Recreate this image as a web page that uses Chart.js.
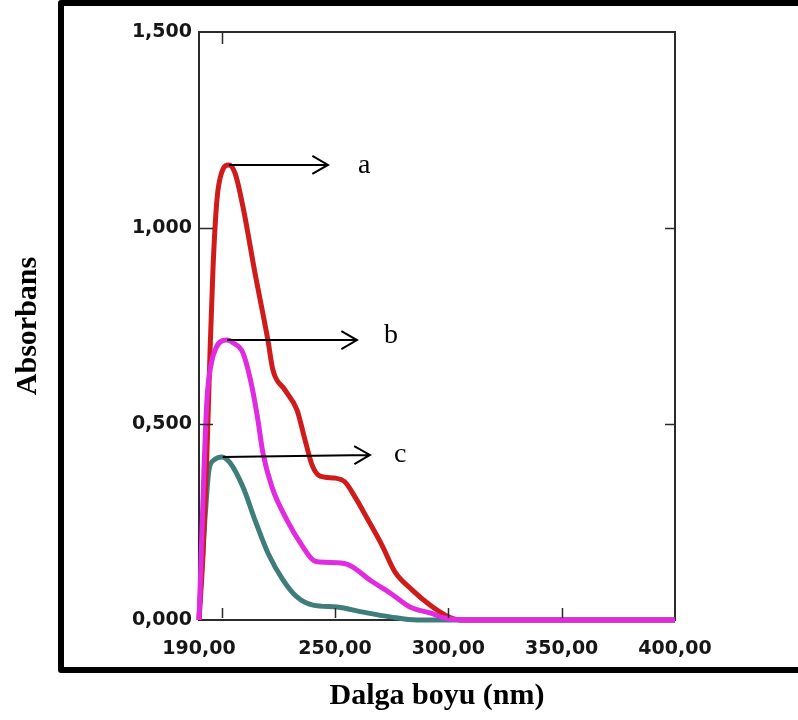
<!DOCTYPE html>
<html>
<head>
<meta charset="utf-8">
<script src="https://cdn.jsdelivr.net/npm/chart.js@4.4.0/dist/chart.umd.min.js"></script>
<style>
  body { margin: 0; background: #fff; }
  canvas { display: block; }
</style>
</head>
<body>
<canvas id="myChart" width="798" height="720"></canvas>
<script>
// wavelengths (nm) and absorbance
const redNm = [190, 191.8, 193.5, 194.9, 196.2, 197.9, 200.1, 203.2, 205.9, 209.4, 214.7, 220.4, 222.6, 227.9, 233.2, 236.8, 239.9, 243.4, 250.0, 254.4, 258.8, 264.6, 270.7, 276.5, 284.0, 291.9, 298.5, 305, 400];
const redAbs = [0, 0.171, 0.426, 0.689, 0.90, 1.071, 1.143, 1.161, 1.140, 1.054, 0.885, 0.714, 0.638, 0.587, 0.536, 0.459, 0.395, 0.367, 0.362, 0.352, 0.314, 0.255, 0.191, 0.122, 0.077, 0.038, 0.013, 0, 0];

const pinkNm = [190, 190.9, 192.2, 193.5, 195.3, 197.5, 200.1, 202.4, 205.0, 209.4, 213.4, 216.0, 218.2, 222.2, 228.8, 235.9, 240.3, 243.4, 253.5, 257.9, 265.4, 274.3, 283.1, 291.9, 298.5, 309.6, 400];
const pinkAbs = [0, 0.153, 0.383, 0.561, 0.651, 0.694, 0.712, 0.714, 0.707, 0.681, 0.594, 0.510, 0.426, 0.339, 0.255, 0.186, 0.153, 0.148, 0.145, 0.135, 0.102, 0.069, 0.033, 0.018, 0.005, 0, 0];

const tealNm = [190, 190.9, 192.6, 194.4, 196.6, 200.1, 203.7, 209.4, 214.7, 220.4, 227.1, 233.2, 240.3, 250.9, 262.4, 274.3, 286.2, 400];
const tealAbs = [0, 0.102, 0.255, 0.383, 0.408, 0.416, 0.401, 0.339, 0.255, 0.171, 0.102, 0.059, 0.038, 0.033, 0.020, 0.008, 0, 0];

const xTickLabels = [190, 250, 300, 350, 400];
const xTickMarks = [200, 250, 300, 350];
const yTickMarks = [0.5, 1.0];

// arrows pointing at each peak, with their letter
const peakLabels = ['a', 'b', 'c'];
const arrowFromNm = [203.2, 202.4, 200.5];
const arrowFromAbs = [1.161, 0.714, 0.416];
const arrowToNm = [246.9, 259.7, 265.4];
const arrowToAbs = [1.161, 0.714, 0.421];
const letterNm = [260.1, 271.6, 276.0];
const letterAbs = [1.140, 0.707, 0.403];

function toPoints(xs, ys) {
  return xs.map((x, i) => ({ x: x, y: ys[i] }));
}

const comma = (v, d) => v.toFixed(d).replace('.', ',');

const outerBox = {
  id: 'outerBox',
  beforeDraw(chart) {
    const ctx = chart.ctx;
    ctx.save();
    ctx.strokeStyle = '#000';
    ctx.lineWidth = 6;
    ctx.lineJoin = 'round';
    ctx.strokeRect(61, 3, 800, 667);
    ctx.restore();
  }
};

const plotFrame = {
  id: 'plotFrame',
  beforeDatasetsDraw(chart) {
    const { ctx, chartArea: a } = chart;
    ctx.save();
    ctx.strokeStyle = '#2b2b2b';
    ctx.lineWidth = 2;
    ctx.strokeRect(a.left, a.top, a.right - a.left, a.bottom - a.top);
    ctx.restore();
  }
};

const marksAndArrows = {
  id: 'marksAndArrows',
  afterDatasetsDraw(chart) {
    const { ctx, chartArea: a, scales: { x, y } } = chart;
    ctx.save();
    ctx.strokeStyle = '#2b2b2b';
    ctx.beginPath();
    xTickMarks.forEach(v => {
      const px = Math.round(x.getPixelForValue(v)) + 0.5;
      ctx.moveTo(px, a.bottom - 2);
      ctx.lineTo(px, a.bottom - 12);
    });
    const tx = Math.round(x.getPixelForValue(xTickMarks[0])) + 0.5;
    ctx.moveTo(tx, a.top);
    ctx.lineTo(tx, a.top + 12);
    yTickMarks.forEach(v => {
      const py = Math.round(y.getPixelForValue(v)) + 0.5;
      ctx.moveTo(a.left, py);
      ctx.lineTo(a.left + 14, py);
      ctx.moveTo(a.right, py);
      ctx.lineTo(a.right - 10, py);
    });
    ctx.lineWidth = 1.5;
    ctx.stroke();

    ctx.strokeStyle = '#000';
    ctx.fillStyle = '#000';
    ctx.lineWidth = 2;
    peakLabels.forEach((lab, i) => {
      const x0 = x.getPixelForValue(arrowFromNm[i]);
      const y0 = y.getPixelForValue(arrowFromAbs[i]);
      const x1 = x.getPixelForValue(arrowToNm[i]);
      const y1 = y.getPixelForValue(arrowToAbs[i]);
      const ang = Math.atan2(y1 - y0, x1 - x0);
      ctx.beginPath();
      ctx.moveTo(x0, y0);
      ctx.lineTo(x1, y1);
      ctx.moveTo(x1 - 18 * Math.cos(ang - 0.52), y1 - 18 * Math.sin(ang - 0.52));
      ctx.lineTo(x1, y1);
      ctx.lineTo(x1 - 18 * Math.cos(ang + 0.52), y1 - 18 * Math.sin(ang + 0.52));
      ctx.stroke();
      ctx.font = '28px "Liberation Serif"';
      ctx.textAlign = 'left';
      ctx.textBaseline = 'alphabetic';
      ctx.fillText(lab, x.getPixelForValue(letterNm[i]), y.getPixelForValue(letterAbs[i]));
    });
    ctx.restore();
  }
};

const lineStyle = { pointRadius: 0, borderWidth: 5, fill: false, cubicInterpolationMode: 'monotone', clip: false };

// Chart.js paints the first dataset on top, so pink comes first
const chart = new Chart('myChart', {
  type: 'line',
  data: {
    datasets: [
      Object.assign({ label: 'b', data: toPoints(pinkNm, pinkAbs), borderColor: '#e02be0' }, lineStyle),
      Object.assign({ label: 'a', data: toPoints(redNm, redAbs), borderColor: '#d01b1b' }, lineStyle),
      Object.assign({ label: 'c', data: toPoints(tealNm, tealAbs), borderColor: '#3f7d7b' }, lineStyle)
    ]
  },
  options: {
    responsive: false,
    animation: false,
    devicePixelRatio: 1,
    layout: { padding: { left: 0, top: 32, right: 123, bottom: 0 } },
    plugins: { legend: { display: false }, tooltip: { enabled: false } },
    scales: {
      x: {
        type: 'linear',
        min: 190,
        max: 400,
        grid: { display: false, drawTicks: false },
        border: { display: false },
        afterBuildTicks: s => { s.ticks = xTickLabels.map(v => ({ value: v })); },
        afterFit: s => { s.height = 100; },
        ticks: {
          padding: 18,
          color: '#161616',
          maxRotation: 0,
          autoSkip: false,
          font: { family: '"DejaVu Sans"', size: 19, weight: 'bold' },
          callback: v => comma(v, 2)
        },
        title: {
          display: true,
          text: 'Dalga boyu (nm)',
          color: '#000',
          padding: { top: 0, bottom: 6 },
          font: { family: '"Liberation Serif"', size: 30, weight: 'bold' }
        }
      },
      y: {
        min: 0,
        max: 1.5,
        grid: { display: false, drawTicks: false },
        border: { display: false },
        afterFit: s => { s.width = 199; },
        ticks: {
          stepSize: 0.5,
          padding: 7,
          color: '#161616',
          font: { family: '"DejaVu Sans"', size: 19, weight: 'bold' },
          callback: v => comma(v, 3)
        },
        title: {
          display: true,
          text: 'Absorbans',
          color: '#000',
          padding: { top: 10, bottom: 0 },
          font: { family: '"Liberation Serif"', size: 30, weight: 'bold' }
        }
      }
    }
  },
  plugins: [outerBox, plotFrame, marksAndArrows]
});
</script>
</body>
</html>
